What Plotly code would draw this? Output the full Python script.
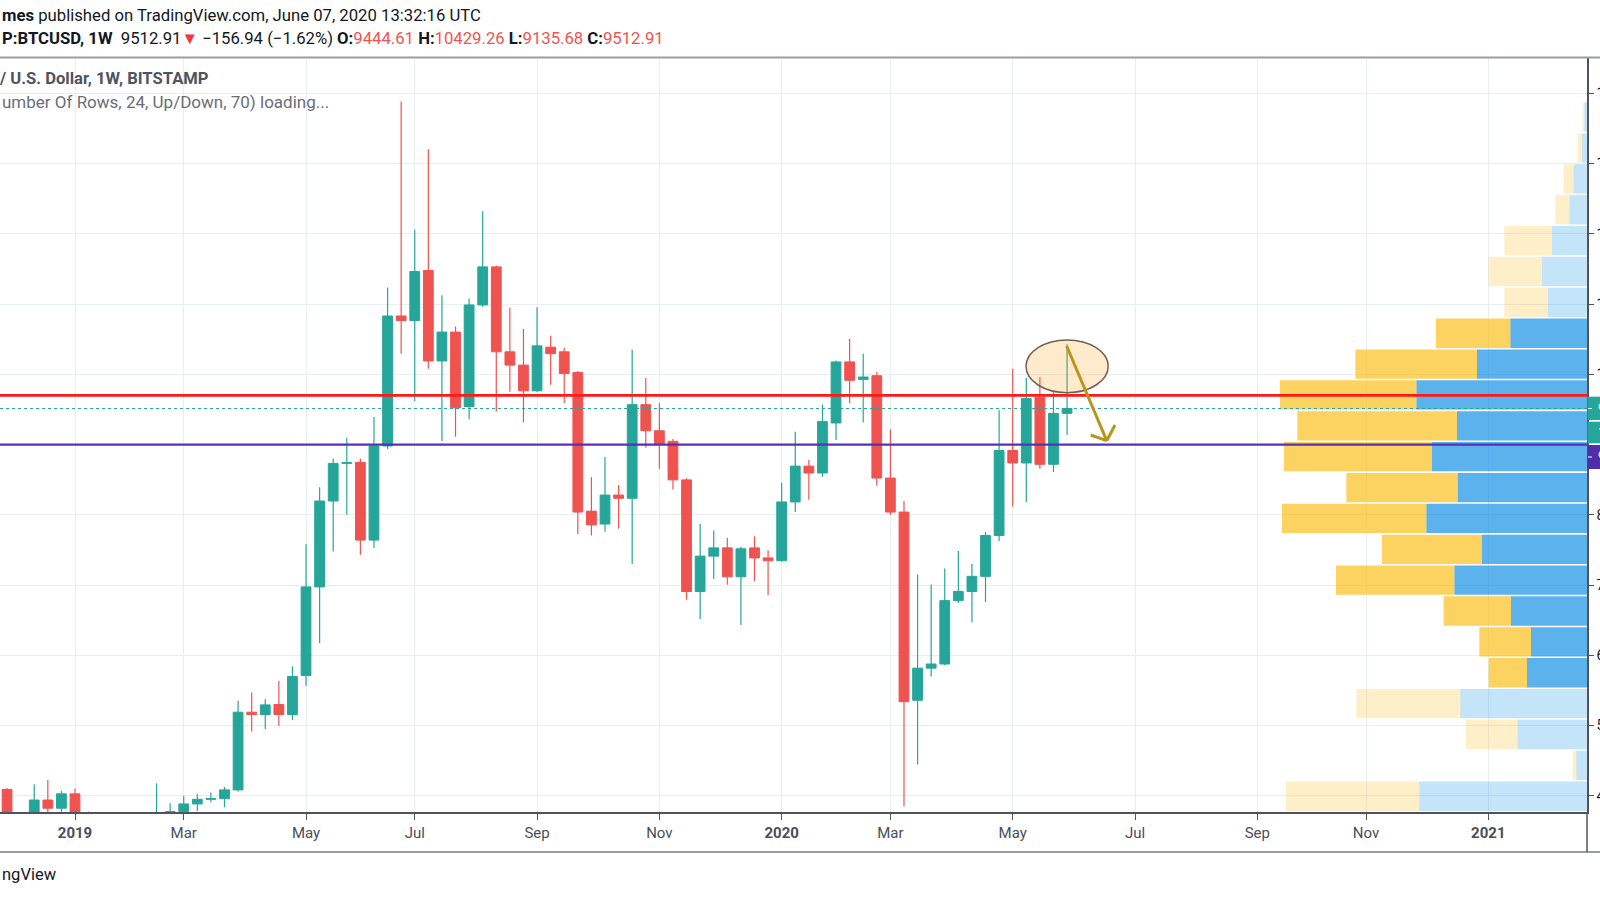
import plotly.graph_objects as go
import pandas as pd

# ---------------- data (weekly BTCUSD, Bitstamp) ----------------
week_start = "2018-12-03"
open_ = [4090, 3580, 3230, 3940, 3823, 4028, 3520, 3545, 3530, 3410, 3650, 3660, 3740, 3776,
         3884, 3950, 3960, 4084, 5190, 5157, 5300, 5157, 5712, 6974, 8196, 8732, 8745, 7640,
         8980, 10830, 10765, 11477, 10190, 10601, 9542, 10987, 11529, 10320, 10131, 9765, 10386,
         10320, 10026, 8052, 7869, 8281, 8235, 9568, 9196, 9046, 8497, 6908, 7412, 7529, 7118,
         7529, 7386, 7346, 8183, 8693, 8595, 9307, 10176, 9928, 9980, 8523, 8039, 5360, 5817,
         5876, 6778, 6908, 7124, 7706, 8915, 8738, 9673, 8719, 9444.61]
high_ = [4110, 3620, 4163, 4224, 4070, 4103, 3776, 3620, 3560, 3720, 3720, 4177, 3893, 4000,
         4028, 4047, 4126, 5353, 5470, 5373, 5634, 5843, 7582, 8392, 8797, 9098, 8800, 9392,
         11235, 13882, 12059, 13203, 11124, 10680, 11078, 12320, 11549, 10948, 10647, 10954, 10549,
         10379, 10046, 8536, 8824, 8425, 10353, 9947, 9588, 9078, 8520, 7869, 7778, 7673, 7542,
         7693, 7497, 8457, 9183, 8784, 9569, 10196, 10503, 10294, 10033, 9216, 8196, 7150, 7007,
         7235, 7484, 7301, 7758, 9490, 10078, 9948, 9961, 9752, 10429.26]
low_ = [3380, 3122, 3200, 3560, 3720, 3500, 3480, 3450, 3380, 3350, 3580, 3640, 3660, 3680,
        3780, 3907, 3837, 4060, 4915, 4948, 4994, 5078, 5568, 6170, 7477, 8000, 7431, 7529,
        8935, 10294, 9621, 10078, 9052, 9111, 9360, 10960, 9471, 9751, 9314, 9750, 9850,
        9588, 7726, 7706, 7758, 7804, 7300, 8954, 8654, 8360, 6791, 6516, 7085, 7006, 6431,
        7052, 6856, 7330, 8039, 8216, 8542, 9065, 9588, 9314, 8412, 8000, 3850, 4444, 5699,
        5860, 6745, 6471, 6758, 7627, 8118, 8183, 8654, 8608, 9135.68]
close_ = [3580, 3230, 3940, 3823, 4028, 3520, 3545, 3530, 3410, 3650, 3660, 3740, 3776, 3884,
          3950, 3960, 4084, 5190, 5157, 5294, 5157, 5699, 6974, 8196, 8732, 8745, 7640, 8980,
          10830, 10765, 11464, 10190, 10601, 9523, 10987, 11529, 10320, 10131, 9765, 10405, 10294,
          10013, 8039, 7856, 8281, 8235, 9568, 9196, 9000, 8497, 6908, 7412, 7529, 7118, 7516,
          7386, 7346, 8183, 8693, 8595, 9327, 10176, 9915, 9961, 8523, 8039, 5340, 5817, 5876,
          6778, 6908, 7124, 7706, 8915, 8738, 9654, 8719, 9444, 9512.91]

tick_dates = ["2019-01-07", "2019-03-04", "2019-05-06", "2019-07-01", "2019-09-02", "2019-11-04",
              "2020-01-06", "2020-03-02", "2020-05-04", "2020-07-06", "2020-09-07", "2020-11-02",
              "2021-01-04"]
tick_labels = ["<b>2019</b>", "Mar", "May", "Jul", "Sep", "Nov", "<b>2020</b>", "Mar", "May",
               "Jul", "Sep", "Nov", "<b>2021</b>"]

price_ticks = [4000, 5000, 6000, 7000, 8000, 10000, 11000, 12000, 13000, 14000]

resistance_level = 9700
support_level = 9000

# Volume profile (visible range, 24 rows, top -> bottom)
vp_high = 13880
vp_low = 3335
vp_up = [2.7, 5.0, 13.4, 17.4, 35.0, 45.0, 39.0, 76.7, 110.0, 170.7, 130.0, 155.0,
         129.4, 160.7, 105.0, 132.7, 76.0, 56.0, 60.0, 126.7, 69.4, 10.7, 167.7, 60.0]
vp_down = [1.7, 4.4, 10.0, 14.3, 47.7, 53.4, 43.7, 74.3, 121.6, 136.4, 159.7, 148.0,
           111.3, 144.4, 100.0, 118.3, 67.4, 51.7, 38.4, 104.0, 51.6, 3.7, 133.3, 50.0]
vp_value_area = [0, 0, 0, 0, 0, 0, 0, 1, 1, 1, 1, 1, 1, 1, 1, 1, 1, 1, 1, 0, 0, 0, 0, 0]

# ---------------- geometry / styles ----------------
W, H = 1600, 900
PL, PR, PT, PB = 0, 1587, 58, 812
X_RANGE = [-5.519, 111.26]
Y_RANGE = [3769.4, 14502.5]

UP = "#26a69a"
DN = "#ef5350"
GRID = "#e7eef4"
TXT = "#131722"
FONT = "Roboto"


def px(x):
    return (x - PL) / (PR - PL)


def py(y):
    return (PB - y) / (PB - PT)


ref_monday = pd.Timestamp("2019-01-07")
dates = pd.date_range(week_start, periods=len(open_), freq="7D")
idx = [(d - ref_monday).days / 7 for d in dates]
tick_idx = [(pd.Timestamp(t) - ref_monday).days / 7 for t in tick_dates]

fig = go.Figure()

# wicks
for up in (True, False):
    xs, ys = [], []
    for i, o, h, l, c in zip(idx, open_, high_, low_, close_):
        if (c >= o) == up:
            xs += [i, i, None]
            ys += [l, h, None]
    fig.add_trace(go.Scatter(x=xs, y=ys, mode="lines", line=dict(color=UP if up else DN, width=1.2),
                             hoverinfo="skip", xaxis="x", yaxis="y"))

# bodies
for up in (True, False):
    bx, bh, bb = [], [], []
    for i, o, c in zip(idx, open_, close_):
        if (c >= o) == up:
            bx.append(i)
            bh.append(max(abs(c - o), 12))
            bb.append(min(o, c))
    col = UP if up else DN
    fig.add_trace(go.Bar(x=bx, y=bh, base=bb, width=0.72,
                         marker=dict(color=col, line=dict(color=col, width=1)),
                         hoverinfo="skip", xaxis="x", yaxis="y"))

# volume profile
rows = len(vp_up)
row_h = (vp_high - vp_low) / rows
row_c = [vp_high - (k + 0.5) * row_h for k in range(rows)]
up_cols = ["rgba(21,146,230,0.70)" if v else "rgba(21,146,230,0.25)" for v in vp_value_area]
dn_cols = ["rgba(251,193,35,0.72)" if v else "rgba(251,193,35,0.25)" for v in vp_value_area]
fig.add_trace(go.Bar(y=row_c, x=vp_up, base=[0] * rows, orientation="h", width=row_h * 0.95,
                     marker=dict(color=up_cols, line=dict(width=0)), hoverinfo="skip",
                     xaxis="x2", yaxis="y"))
fig.add_trace(go.Bar(y=row_c, x=vp_down, base=vp_up, orientation="h", width=row_h * 0.95,
                     marker=dict(color=dn_cols, line=dict(width=0)), hoverinfo="skip",
                     xaxis="x2", yaxis="y"))
vp_span = max(u + d for u, d in zip(vp_up, vp_down)) / 0.1935

shapes = []
# horizontal level lines
shapes.append(dict(type="line", xref="paper", yref="y", x0=0, x1=1, y0=resistance_level,
                   y1=resistance_level, line=dict(color="#ff1a1a", width=2.6), layer="above"))
shapes.append(dict(type="line", xref="paper", yref="y", x0=0, x1=1, y0=support_level,
                   y1=support_level, line=dict(color="#5632b0", width=2.2), layer="above"))
shapes.append(dict(type="line", xref="paper", yref="y", x0=0, x1=1, y0=close_[-1],
                   y1=close_[-1], line=dict(color=UP, width=1, dash="dot"), layer="above"))
# ellipse + arrow drawing
shapes.append(dict(type="circle", xref="x", yref="y", x0=69.98, x1=76.03, y0=9738, y1=10488,
                   fillcolor="rgba(255,152,0,0.20)", line=dict(color="#6f6254", width=1.5),
                   layer="above"))
AR = "#b8961c"
for (xa, ya, xb, yb) in [(72.97, 10403, 75.92, 9055), (74.74, 9136, 75.92, 9055),
                         (76.53, 9278, 75.92, 9055)]:
    shapes.append(dict(type="line", xref="x", yref="y", x0=xa, y0=ya, x1=xb, y1=yb,
                       line=dict(color=AR, width=3), layer="above"))
# pane borders
XR = W / (PR - PL)
shapes.append(dict(type="line", xref="paper", yref="paper", x0=0, x1=XR, y0=py(57.5), y1=py(57.5),
                   line=dict(color="#9a9da5", width=2)))
shapes.append(dict(type="line", xref="paper", yref="paper", x0=0, x1=XR, y0=py(852), y1=py(852),
                   line=dict(color="#9a9da5", width=2)))
shapes.append(dict(type="line", xref="paper", yref="paper", x0=1, x1=1, y0=py(812), y1=py(852),
                   line=dict(color="#50535e", width=1.5)))
# price-axis labels (cut off at the right edge)
for (y0, y1, col) in [(396.7, 420.0, UP), (421.7, 443.3, UP), (445.0, 469.0, "#512da8")]:
    shapes.append(dict(type="rect", xref="paper", yref="paper", x0=px(1587.5), x1=XR,
                       y0=py(y1), y1=py(y0), fillcolor=col, line=dict(width=0), layer="above"))
for yy in (408.5, 457.0):
    shapes.append(dict(type="line", xref="paper", yref="paper", x0=px(1588), x1=px(1592),
                       y0=py(yy), y1=py(yy), line=dict(color="white", width=1), layer="above"))

ann = []


def text(x, y, s, size, color, anchor="left"):
    ann.append(dict(xref="paper", yref="paper", x=px(x), y=py(y), text=s, showarrow=False,
                    xanchor=anchor, yanchor="middle", font=dict(family=FONT, size=size, color=color)))


R = "#ef5350"
line2 = ("<b>P:BTCUSD, 1W</b>  9512.91<span style='color:#f23645'>▼</span> −156.94 (−1.62%) "
         "<b>O:</b><span style='color:{r}'>9444.61</span> <b>H:</b><span style='color:{r}'>10429.26</span> "
         "<b>L:</b><span style='color:{r}'>9135.68</span> <b>C:</b><span style='color:{r}'>9512.91</span>"
         ).format(r=R)
text(0, 15.5, "<b>mes</b> published on TradingView.com, June 07, 2020 13:32:16 UTC", 16.7, TXT)
text(0, 38.5, line2, 16.7, TXT)
text(-3, 78.6, "<b>/ U.S. Dollar, 1W, BITSTAMP</b>", 16.6, "#4f535e")
text(0, 102, "umber Of Rows, 24, Up/Down, 70) loading...", 17, "#6a6d78")
text(0, 875, "ngView", 16.5, TXT)
text(1596, 408.5, "9512.91", 14, "white")
text(1596, 432.5, "1d 10h", 14, "white")
text(1596, 457.0, "9000.00", 14, "white")

fig.update_layout(
    width=W, height=H, margin=dict(l=PL, r=W - PR, t=PT, b=H - PB, autoexpand=False),
    paper_bgcolor="white", plot_bgcolor="white", showlegend=False, barmode="overlay",
    font=dict(family=FONT, color=TXT),
    xaxis=dict(range=X_RANGE, tickvals=tick_idx, ticktext=tick_labels, showgrid=True,
               gridcolor=GRID, gridwidth=1, zeroline=False, showline=True, linecolor="#50535e",
               linewidth=1.5, ticks="outside", ticklen=6, tickcolor="#50535e", automargin=False,
               tickfont=dict(family=FONT, size=15, color="#4a4e59"), fixedrange=True),
    xaxis2=dict(range=[vp_span, 0], overlaying="x", anchor="y", visible=False, fixedrange=True,
                automargin=False),
    yaxis=dict(range=Y_RANGE, side="right", tickvals=price_ticks,
               ticktext=["%.2f" % v for v in price_ticks], showgrid=True, gridcolor=GRID,
               zeroline=False, showline=True, linecolor="#50535e", linewidth=1.5,
               ticks="outside", ticklen=5, tickcolor="#50535e", automargin=False,
               tickfont=dict(family=FONT, size=14, color=TXT), fixedrange=True),
    shapes=shapes, annotations=ann,
)

fig.write_html("out.html", config={"displayModeBar": False},
               post_script="document.body.style.margin='0';document.body.style.overflow='hidden';")
